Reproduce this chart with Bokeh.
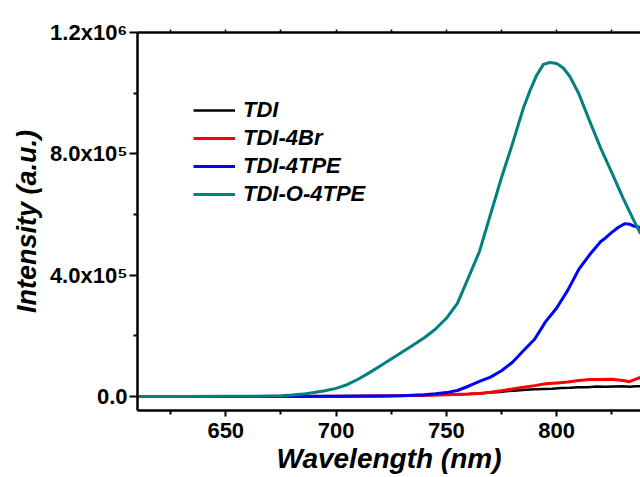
from bokeh.plotting import figure
from bokeh.models import Range1d, FixedTicker, LinearAxis, Legend, LegendItem
from bokeh.embed import file_html
from bokeh.resources import INLINE

# ---------------- data ----------------
series_names = ["TDI", "TDI-4Br", "TDI-4TPE", "TDI-O-4TPE"]
series_colors = ["#000000", "#FF0000", "#0000FF", "#008080"]

wl_tdi = [610, 650, 700, 720, 740, 750, 760, 765, 770, 774, 778, 782, 786, 790, 794,
          798, 802, 806, 810, 814, 818, 822, 826, 830, 833, 836, 838]
int_tdi = [0, 0, 1000, 2000, 4000, 6000, 8000, 10000, 13000, 15000, 18000, 20000, 22000,
           24000, 25000, 26000, 28000, 29000, 31000, 31000, 33000, 32000, 33000, 34000,
           32000, 34000, 34000]

wl_tdi4br = [610, 650, 700, 720, 740, 750, 760, 765, 770, 775, 780, 785, 790, 795, 800,
             805, 810, 815, 820, 825, 830, 833, 835, 838]
int_tdi4br = [0, 0, 1000, 2000, 4000, 6000, 8000, 10000, 14000, 19000, 25000, 31000,
              36000, 42000, 45000, 48000, 53000, 56000, 56000, 57000, 53000, 49000,
              55000, 63000]

wl_tdi4tpe = [610, 650, 700, 720, 730, 740, 745, 750, 755, 760, 765, 770, 775, 780, 785,
              790, 795, 800, 805, 810, 815, 820, 822, 825, 828, 831, 833, 835, 838]
int_tdi4tpe = [0, 0, 1000, 2000, 3000, 6000, 9000, 13000, 20000, 34000, 50000, 64000,
               85000, 113000, 152000, 189000, 247000, 292000, 350000, 419000, 468000,
               511000, 522000, 541000, 558000, 570000, 568000, 562000, 557000]

wl_tdio4tpe = [610, 630, 650, 660, 670, 675, 680, 685, 690, 695, 700, 705, 710, 715, 720,
               725, 730, 735, 740, 745, 750, 755, 760, 765, 770, 775, 780, 785, 788, 791,
               794, 797, 800, 803, 806, 810, 815, 820, 825, 830, 835, 838]
int_tdio4tpe = [0, 0, 1000, 1000, 2000, 3000, 5000, 8000, 13000, 19000, 27000, 39000,
                57000, 78000, 101000, 124000, 147000, 170000, 194000, 222000, 258000,
                307000, 392000, 478000, 600000, 722000, 834000, 953000, 1010000, 1060000,
                1095000, 1101000, 1098000, 1083000, 1055000, 999000, 907000, 818000,
                738000, 656000, 580000, 537000]

x_major = [650, 700, 750, 800]
x_minor = [625, 675, 725, 775, 825]
y_major = [0, 400000, 800000, 1200000]
y_minor = [200000, 600000, 1000000]
y_labels = ["0.0", "4.0x10\u2075", "8.0x10\u2075", "1.2x10\u2076"]

FONT = "Liberation Sans"

p = figure(width=640, height=477, output_backend="svg", toolbar_location=None,
           x_range=Range1d(610, 838), y_range=Range1d(-46000, 1200000),
           min_border_left=137, min_border_right=0, min_border_top=32,
           min_border_bottom=67)
p.outline_line_color = None
p.grid.visible = False

xs = [wl_tdi, wl_tdi4br, wl_tdi4tpe, wl_tdio4tpe]
ys = [int_tdi, int_tdi4br, int_tdi4tpe, int_tdio4tpe]
widths = [2.5, 3, 3, 3]
items = []
for name, color, x, y, w in zip(series_names, series_colors, xs, ys, widths):
    r = p.line(x, y, line_color=color, line_width=w, line_join="round")
    items.append(LegendItem(label=name, renderers=[r]))

# axes
xa = p.xaxis[0]
xa.ticker = FixedTicker(ticks=x_major, minor_ticks=x_minor)
xa.axis_label = "Wavelength (nm)"
ya = p.yaxis[0]
ya.ticker = FixedTicker(ticks=y_major, minor_ticks=y_minor)
ya.major_label_overrides = {t: l for t, l in zip(y_major, y_labels)}
ya.axis_label = "Intensity (a.u.)"

for ax in (xa, ya):
    ax.axis_line_width = 2.5
    ax.axis_line_color = "black"
    ax.major_tick_line_width = 2
    ax.minor_tick_line_width = 2
    ax.major_tick_in = 0
    ax.minor_tick_in = 0
    ax.major_label_text_font = FONT
    ax.major_label_text_font_style = "bold"
    ax.major_label_text_font_size = "22px"
    ax.major_label_text_color = "black"
    ax.axis_label_text_font = FONT
    ax.axis_label_text_font_style = "bold italic"
    ax.axis_label_text_color = "black"

xa.axis_label_text_font_size = "28px"
ya.axis_label_text_font_size = "27px"
xa.major_tick_out = 6
xa.minor_tick_out = 4
xa.major_label_standoff = 6
xa.axis_label_standoff = 2
ya.major_tick_out = 8
ya.minor_tick_out = 4
ya.major_label_standoff = 2
ya.axis_label_standoff = 5

top = LinearAxis(ticker=FixedTicker(ticks=x_major, minor_ticks=x_minor),
                 major_label_text_font_size="0px", axis_line_width=2.5,
                 major_tick_out=3, minor_tick_out=3, major_tick_in=0, minor_tick_in=0,
                 major_tick_line_width=1.5, minor_tick_line_width=1.5)
top.major_label_text_alpha = 0
p.add_layout(top, "above")

legend = Legend(items=items, location=(56, 202), border_line_color=None,
                background_fill_alpha=0, padding=0, spacing=0, margin=0,
                label_height=28, glyph_height=28, glyph_width=42, label_standoff=8,
                label_text_font=FONT, label_text_font_style="bold italic",
                label_text_font_size="22px", label_text_color="black")
p.add_layout(legend)

open("out.html", "w").write(file_html(p, INLINE))
